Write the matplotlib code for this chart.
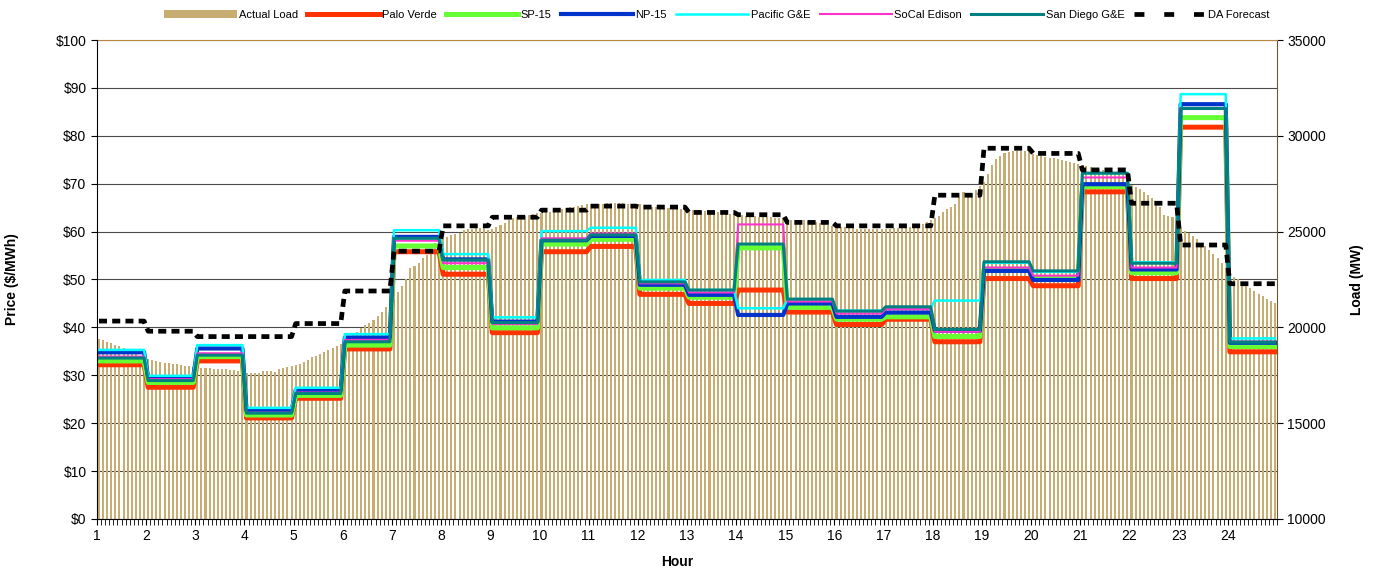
import numpy as np
import matplotlib
matplotlib.use('Agg')
import matplotlib.pyplot as plt
from matplotlib.lines import Line2D
from matplotlib.patches import Patch
from matplotlib.ticker import MultipleLocator, FuncFormatter

plt.rcParams['font.family'] = ['Liberation Sans', 'DejaVu Sans']

hours = list(range(1, 25))

# hourly prices, $/MWh
palo_verde = [32.2, 27.5, 33.0, 21.1, 25.2, 35.5, 55.8, 51.1, 38.9, 55.8, 56.9, 46.9,
              45.0, 47.8, 43.2, 40.6, 41.7, 37.0, 50.2, 48.7, 68.3, 50.2, 81.8, 34.9]
sp15 = [33.0, 28.5, 33.9, 21.7, 25.8, 36.3, 57.0, 52.5, 39.9, 57.4, 58.4, 48.2,
        46.3, 56.6, 44.2, 41.7, 42.2, 38.1, 52.1, 50.4, 69.4, 51.4, 83.8, 36.0]
np15 = [34.8, 29.6, 35.6, 22.6, 26.9, 37.9, 58.9, 54.2, 41.2, 58.2, 59.1, 48.9,
        46.8, 42.6, 45.0, 42.2, 43.1, 39.3, 51.8, 49.9, 69.9, 52.1, 86.6, 36.8]
pacific_ge = [35.3, 29.9, 36.3, 23.2, 27.4, 38.6, 60.3, 55.3, 42.1, 60.1, 60.8, 49.9,
              47.8, 44.0, 45.9, 43.5, 44.1, 45.6, 53.5, 51.6, 72.2, 53.6, 88.7, 37.7]
socal_edison = [33.9, 29.2, 34.6, 22.2, 26.4, 37.4, 58.1, 53.4, 40.7, 58.6, 59.6, 49.2,
                47.3, 61.5, 45.4, 42.9, 43.8, 39.1, 52.5, 50.8, 71.3, 52.5, 85.7, 37.0]
san_diego_ge = [33.6, 28.9, 34.2, 22.1, 26.2, 37.0, 58.6, 54.1, 41.0, 58.2, 59.3, 49.5,
                47.8, 57.4, 45.9, 43.4, 44.3, 39.6, 53.7, 51.8, 72.2, 53.4, 85.7, 36.9]

# day-ahead load forecast, MW
da_forecast = [20330, 19800, 19520, 19520, 20200, 21900, 23980, 25300, 25750, 26120, 26330, 26280,
               26000, 25880, 25480, 25300, 25300, 26900, 29350, 29080, 28220, 26480, 24300, 22280]

# actual load, 5-minute intervals, MW
load_mw = [
    19400, 19320, 19240, 19160, 19090, 19010, 18920, 18830, 18720, 18620, 18500, 18420,
    18350, 18290, 18240, 18200, 18160, 18130, 18110, 18080, 18050, 18010, 17980, 17950,
    17900, 17880, 17870, 17860, 17850, 17840, 17830, 17820, 17800, 17780, 17720, 17660,
    17630, 17600, 17600, 17640, 17720, 17720, 17700, 17660, 17840, 17880, 17930, 17980,
    18040, 18070, 18170, 18290, 18460, 18520, 18610, 18700, 18800, 18900, 19030, 19150,
    19300, 19480, 19650, 19780, 19960, 20100, 20230, 20380, 20580, 20800, 21060, 21320,
    21500, 21850, 22150, 22500, 23100, 23200, 23380, 23600, 23780, 24040, 24380, 24560,
    24610, 24730, 24820, 24870, 24940, 25080, 25110, 25160, 25200, 25210, 25170, 25090,
    25150, 25220, 25340, 25460, 25600, 25690, 25780, 25780, 25810, 25850, 25910, 25950,
    25990, 26020, 26040, 26070, 26110, 26160, 26210, 26260, 26300, 26340, 26380, 26420,
    26440, 26450, 26460, 26460, 26470, 26470, 26470, 26470, 26470, 26460, 26460, 26450,
    26430, 26380, 26330, 26300, 26270, 26260, 26250, 26230, 26220, 26210, 26190, 26170,
    26150, 26130, 26120, 26100, 26070, 26040, 26030, 26000, 25970, 25940, 25920, 25900,
    25880, 25850, 25820, 25810, 25790, 25780, 25770, 25750, 25740, 25720, 25700, 25690,
    25660, 25630, 25600, 25590, 25580, 25560, 25530, 25480, 25430, 25390, 25350, 25310,
    25290, 25260, 25250, 25220, 25170, 25140, 25120, 25120, 25120, 25130, 25140, 25140,
    25150, 25150, 25170, 25170, 25170, 25200, 25250, 25290, 25340, 25420, 25510, 25590,
    25720, 25840, 26000, 26180, 26290, 26440, 26800, 27050, 26960, 26940, 27150, 27400,
    27600, 28000, 28500, 28800, 28950, 29080, 29140, 29200, 29220, 29230, 29230, 29220,
    29050, 29000, 28960, 28910, 28860, 28820, 28780, 28740, 28700, 28650, 28600, 28530,
    28480, 28430, 28380, 28330, 28280, 28240, 28200, 28150, 28100, 28040, 27980, 27900,
    27450, 27330, 27200, 27050, 26900, 26750, 26600, 26300, 25850, 25830, 25750, 25500,
    25200, 25050, 24920, 24760, 24590, 24420, 24250, 24060, 23850, 23640, 23380, 23100,
    22750, 22650, 22500, 22350, 22200, 22050, 21900, 21750, 21650, 21500, 21400, 21250,
]

tan = '#C8AD72'
series = [
    ('Palo Verde', palo_verde, '#FF3300', 3.6),
    ('SP-15', sp15, '#66FF33', 3.6),
    ('NP-15', np15, '#0033CC', 3.0),
    ('Pacific G&E', pacific_ge, '#00FFFF', 1.8),
    ('SoCal Edison', socal_edison, '#FF33CC', 1.5),
    ('San Diego G&E', san_diego_ge, '#008080', 2.2),
]

fig = plt.figure(figsize=(13.75, 5.7), dpi=100)
ax = fig.add_axes([0.0705, 0.0895, 0.8582, 0.8403])
ax2 = ax.twinx()
ax.set_zorder(2)
ax2.set_zorder(1)
ax.patch.set_visible(False)

n = len(load_mw)
x = np.arange(n)
per_hour = n // len(hours)

# load bars + gridlines on the right-hand axis (drawn underneath)
ax2.bar(x, load_mw, width=0.5, color=tan, zorder=2)
ax2.set_ylim(10000, 35000)
ax2.yaxis.set_major_locator(MultipleLocator(5000))
ax2.yaxis.set_minor_locator(MultipleLocator(2500))
ax2.set_axisbelow(True)
ax2.grid(axis='y', which='both', color='#4a4a4a', linewidth=0.8)
ax2.tick_params(axis='y', which='major', direction='out', length=4, labelsize=10)
ax2.tick_params(axis='y', which='minor', length=0)
ax2.set_ylabel('Load (MW)', fontsize=10, fontweight='bold')
ax2.yaxis.set_label_coords(1.062, 0.5)

handles = [Patch(facecolor=tan, edgecolor='none')]
labels = ['Actual Load']
for name, vals, color, lw in series:
    ln, = ax.plot(x, np.repeat(vals, per_hour), color=color, lw=lw, label=name)
    handles.append(ln)
    labels.append(name)

# forecast is in MW, so draw it with the load scale but above the price lines
ax.plot(x, np.repeat(da_forecast, per_hour), transform=ax2.transData, color='black',
        lw=3.4, dashes=(1.7, 1.1), dash_capstyle='butt', zorder=5)
handles.append(Line2D([], [], color='black', lw=3.4, dashes=(2.1, 4.2), dash_capstyle='butt'))
labels.append('DA Forecast')

ax.set_ylim(0, 100)
ax.yaxis.set_major_locator(MultipleLocator(10))
ax.yaxis.set_major_formatter(FuncFormatter(lambda v, p: f'${v:.0f}'))
ax.set_xlim(-0.5, n - 0.5)
ax.set_xticks(np.arange(0, n, per_hour) - 0.5)
ax.set_xticklabels([str(h) for h in hours])
ax.set_xticks(np.arange(n + 1) - 0.5, minor=True)
ax.tick_params(axis='x', which='both', direction='out', length=4, labelsize=10)
ax.tick_params(axis='y', direction='out', length=4, labelsize=10)
ax.set_ylabel('Price ($/MWh)', fontsize=10, fontweight='bold')
ax.yaxis.set_label_coords(-0.066, 0.5)
ax.set_xlabel('Hour', fontsize=10, fontweight='bold')
ax.xaxis.set_label_coords(0.492, -0.075)

ax.spines['top'].set_visible(False)
ax.spines['right'].set_visible(False)
ax.spines['left'].set_color('black')
ax.spines['bottom'].set_color('black')
ax2.spines['left'].set_visible(False)
ax2.spines['bottom'].set_visible(False)
ax2.spines['top'].set_color('#B8893A')
ax2.spines['right'].set_color('#6b5a2a')

fig.legend(handles, labels, loc='center', bbox_to_anchor=(0.5215, 0.974), ncol=8,
           frameon=False, fontsize=8, handlelength=6.5, handletextpad=0.2,
           columnspacing=0.85, borderaxespad=0)

fig.savefig('out.png', dpi=100)
